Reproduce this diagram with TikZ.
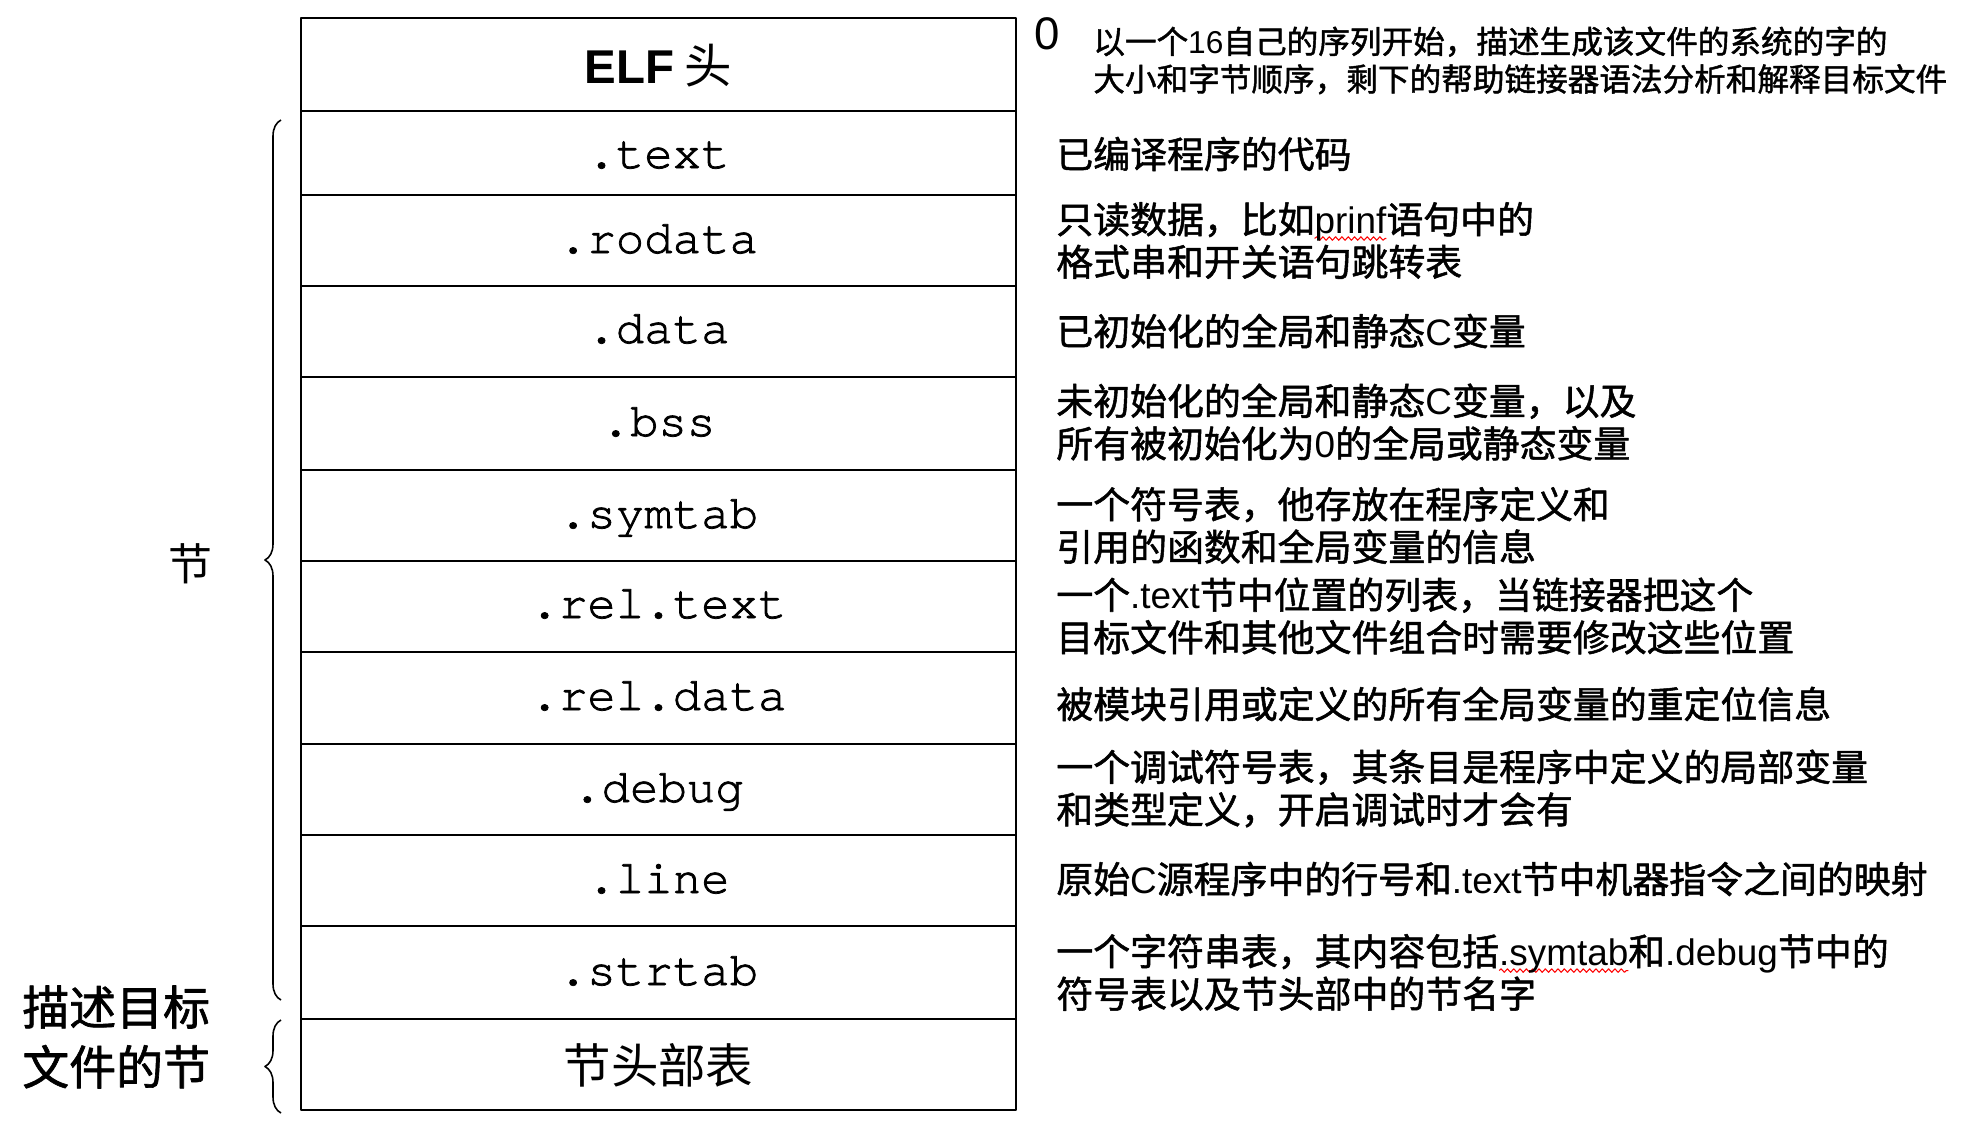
\documentclass[tikz,border=0pt]{standalone}
\usepackage{fontspec}
\setmainfont{Noto Sans CJK SC}
\setmonofont{texgyrecursor-regular.otf}[FakeBold=1.6]
\newfontfamily\arial{Liberation Sans}
\newfontfamily\zhmid{Noto Sans CJK SC}[FakeBold=1.4]
\usetikzlibrary{decorations.pathreplacing,decorations.pathmorphing}
\newsavebox\spellbox
\newcommand\spellmark[1]{\sbox\spellbox{#1}\rlap{\tikz[overlay, baseline=0pt]\draw[red, line width=0.6pt, decorate, decoration={snake, amplitude=1pt, segment length=3.6pt}] (0pt,-3pt) -- (\wd\spellbox,-3pt);}\usebox\spellbox}

\begin{document}
\begin{tikzpicture}[x=0.02cm, y=-0.02cm, line join=round,
  box/.style={line width=1.3pt},
  sect/.style={anchor=base, inner sep=0pt, font=\ttfamily\fontsize{27}{30}\selectfont},
  head/.style={inner sep=0pt, font=\fontsize{27}{30}\selectfont},
  desc/.style={anchor=west, align=left, inner sep=0pt, font=\zhmid\fontsize{21}{24.2}\selectfont},
  grp/.style={decorate, decoration={brace, amplitude=0.32cm}, line width=0.9pt}]
\useasboundingbox (0,0) rectangle (1964,1134);
\draw[box] (301,18) rectangle (1016,1110);
\draw[box] (301,111) -- (1016,111);
\draw[box] (301,195) -- (1016,195);
\draw[box] (301,286) -- (1016,286);
\draw[box] (301,377) -- (1016,377);
\draw[box] (301,470) -- (1016,470);
\draw[box] (301,561) -- (1016,561);
\draw[box] (301,652) -- (1016,652);
\draw[box] (301,744) -- (1016,744);
\draw[box] (301,835) -- (1016,835);
\draw[box] (301,926) -- (1016,926);
\draw[box] (301,1019) -- (1016,1019);
\node[head, anchor=base] (elf) at (658.5,83) {{\arial\bfseries ELF} 头};
\node[sect] (text) at (658.5,168) {.text};
\node[sect] (rodata) at (658.5,253) {.rodata};
\node[sect] (data) at (658.5,343) {.data};
\node[sect] (bss) at (658.5,436) {.bss};
\node[sect] (symtab) at (658.5,528) {.symtab};
\node[sect] (reltext) at (658.5,618) {.rel.text};
\node[sect] (reldata) at (658.5,710) {.rel.data};
\node[sect] (debug) at (658.5,802) {.debug};
\node[sect] (line) at (658.5,893) {.line};
\node[sect] (strtab) at (658.5,985) {.strtab};
\node[head] (shdr) at (658.5,1065) {节头部表};
\draw[grp] (281,1000) -- (281,120);
\draw[grp] (281,1113) -- (281,1020);
\node[inner sep=0pt, font=\fontsize{25}{30}\selectfont] (seclbl) at (190,564) {节};
\node[anchor=west, align=left, inner sep=0pt, font=\zhmid\fontsize{26.7}{34}\selectfont] (shdrlbl) at (22,1037) {描述目标\\文件的节};
\node[inner sep=0pt, font=\arial\fontsize{26}{30}\selectfont] (zero) at (1047,34) {0};
\node[desc, font=\zhmid\fontsize{18}{21.4}\selectfont] (elfdesc) at (1093,60.5) {以一个{\arial 16}自己的序列开始，描述生成该文件的系统的字的\\大小和字节顺序，剩下的帮助链接器语法分析和解释目标文件};
\node[desc] (textdesc) at (1056,154) {已编译程序的代码};
\node[desc] (rodatadesc) at (1056,240.5) {只读数据，比如{\arial\spellmark{prinf}}语句中的\\格式串和开关语句跳转表};
\node[desc] (datadesc) at (1056,331) {已初始化的全局和静态{\arial C}变量};
\node[desc] (bssdesc) at (1056,422) {未初始化的全局和静态{\arial C}变量，以及\\所有被初始化为{\arial 0}的全局或静态变量};
\node[desc] (symtabdesc) at (1056,525.5) {一个符号表，他存放在程序定义和\\引用的函数和全局变量的信息};
\node[desc] (reltextdesc) at (1056,616) {一个{\arial .text}节中位置的列表，当链接器把这个\\目标文件和其他文件组合时需要修改这些位置};
\node[desc] (reldatadesc) at (1056,704) {被模块引用或定义的所有全局变量的重定位信息};
\node[desc] (debugdesc) at (1056,788.5) {一个调试符号表，其条目是程序中定义的局部变量\\和类型定义，开启调试时才会有};
\node[desc] (linedesc) at (1056,879) {原始{\arial C}源程序中的行号和{\arial .text}节中机器指令之间的映射};
\node[desc] (strtabdesc) at (1056,972.5) {一个字符串表，其内容包括{\arial\spellmark{.symtab}}和{\arial .debug}节中的\\符号表以及节头部中的节名字};
\end{tikzpicture}
\end{document}
